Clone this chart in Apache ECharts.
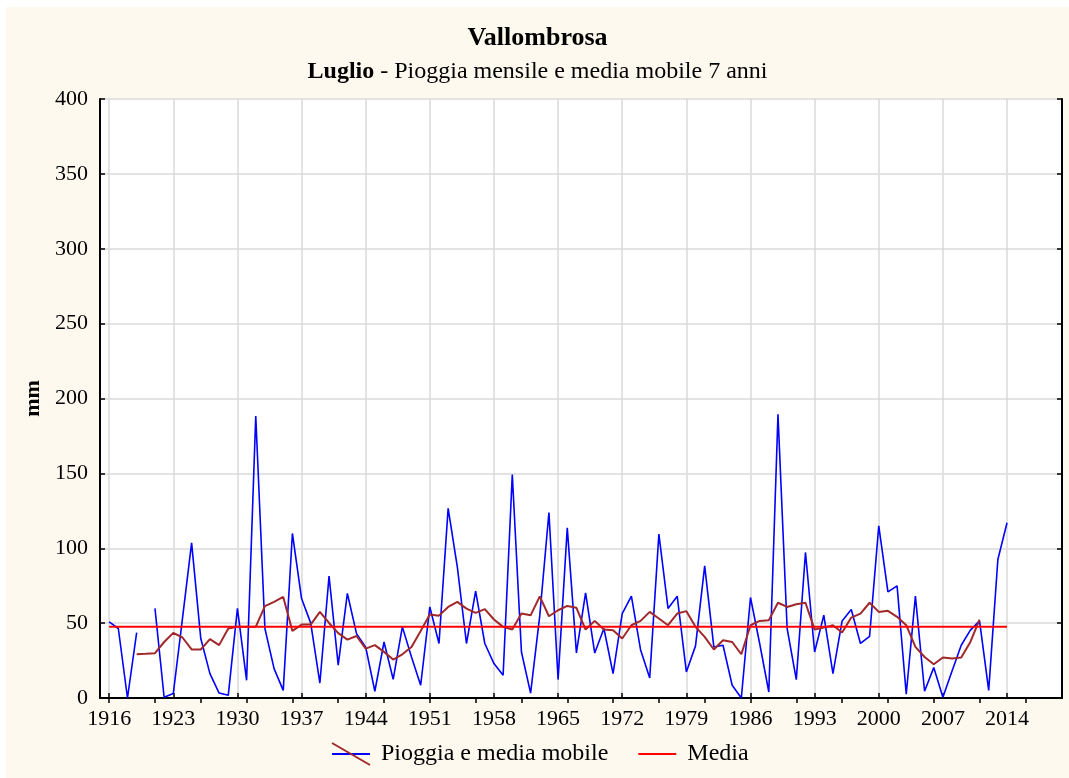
<!DOCTYPE html>
<html>
<head>
<meta charset="utf-8">
<script src="https://cdn.jsdelivr.net/npm/echarts@6/dist/echarts.min.js"></script>
<style>
  body { margin: 0; background: #ffffff; }
  #chart { position: absolute; left: 6px; top: 7px; width: 1063px; height: 771px; background: #fdf9ef; }
</style>
</head>
<body>
<div id="chart"></div>
<script>
// anni sull'asse (1915 - 2020), etichette ogni 7 anni da 1916
var anniAsse = [];
for (var a = 1915; a <= 2020; a++) anniAsse.push(String(a));

// pioggia di luglio, dal 1916 al 2014 (null = dato mancante)
var primoAnnoPioggia = 1916;
var pioggia = [
    50.8, 46.4, 0, 43.7, null, 59.8, 0.5, 3, 53, 103.6,
    39.7, 16.3, 3.3, 1.8, 59.8, 11.8, 188.3, 46.4, 19.6, 5.1,
    109.9, 66.4, 50, 10, 81.4, 21.9, 69.8, 43, 34, 4.5,
    37.4, 12.5, 47.5, 27.4, 8.5, 60.8, 36.4, 126.6, 87.6, 36.4,
    71.3, 36.4, 23, 15.2, 149.3, 30.7, 3.3, 55, 123.9, 12.3,
    113.6, 30.1, 70.2, 30, 46.4, 16.3, 56.4, 68, 32.3, 13.4,
    109.4, 59.8, 68, 17.4, 34.8, 88.2, 34, 35.2, 8.5, 0,
    67.1, 36.4, 4, 189.4, 46.4, 12.3, 97.2, 30.7, 55.3, 16.3,
    51.5, 59.1, 36.4, 41.2, 115, 70.9, 74.9, 2.5, 68, 4.5,
    20.3, 0.5, 18, 35.2, 45.3, 51.5, 5.1, 92.5, 117
];

// media mobile 7 anni, dal 1919 al 2011
var primoAnnoMobile = 1919;
var mediaMobile = [
    29.2, 29.5, 29.9, 37.4, 43.5, 40.4, 32.4, 32.4, 39.3, 35.3,
    46.4, 47.5, 47.5, 47.5, 61.3, 64.2, 67.5, 44.8, 49, 49,
    57.5, 50.1, 43.3, 39, 41.4, 33, 35.3, 30.8, 25.7, 29.2,
    34.1, 44.8, 55.7, 55, 60.8, 64.2, 59.7, 56.8, 59.3, 52.4,
    47.5, 45.7, 56.4, 55.2, 67.9, 54.6, 58.6, 61.5, 60.2, 45.7,
    51.5, 45.7, 45.3, 39.7, 48.6, 51.5, 57.5, 53.1, 48.6, 56.4,
    58, 47.5, 40.8, 32.4, 38.6, 37.4, 29.2, 48.6, 51.5, 52,
    63.6, 60.8, 62.6, 63.6, 45.7, 47, 48.6, 43.7, 53.7, 56.4,
    63.6, 57.5, 58.2, 54.2, 48.6, 34.1, 27.4, 22.5, 27, 26.3,
    27, 37.4, 52.4
];

// media di periodo
var media = 47.5;
var mediaDa = '1916', mediaA = '2014';

var tickY = [0, 50, 100, 150, 200, 250, 300, 350, 400];

function serie(valori, primoAnno) {
    return valori.map(function (v, i) {
        return [String(primoAnno + i), v];
    });
}

function ogni7(idx, val) {
    var y = Number(val);
    return (y - 1916) % 7 === 0 && y <= 2014;
}

var font = 'Liberation Serif, Times New Roman, serif';

var chart = echarts.init(document.getElementById('chart'));

chart.setOption({
    animation: false,
    title: [
        {
            text: 'Vallombrosa',
            left: 'center',
            top: 18,
            padding: 0,
            textStyle: { fontFamily: font, fontSize: 26, fontWeight: 'bold', color: '#000' }
        },
        {
            text: '{b|Luglio}{r| - Pioggia mensile e media mobile 7 anni}',
            left: 'center',
            top: 53,
            padding: 0,
            textStyle: {
                fontFamily: font,
                fontSize: 24,
                fontWeight: 'normal',
                color: '#000',
                rich: {
                    b: { fontFamily: font, fontSize: 24, fontWeight: 'bold', color: '#000' },
                    r: { fontFamily: font, fontSize: 24, fontWeight: 'normal', color: '#000' }
                }
            }
        }
    ],
    grid: {
        left: 94,
        right: 7,
        top: 92,
        bottom: 80,
        show: true,
        backgroundColor: '#ffffff',
        borderWidth: 0
    },
    legend: {
        data: ['Pioggia e media mobile', 'Media'],
        left: 326,
        top: 735,
        padding: 0,
        icon: 'rect',
        itemWidth: 38,
        itemHeight: 2,
        itemGap: 30,
        textStyle: { fontFamily: font, fontSize: 24, color: '#000', padding: [0, 0, 0, 6] }
    },
    xAxis: [
        {
            type: 'category',
            data: anniAsse,
            boundaryGap: false,
            position: 'bottom',
            axisLine: { lineStyle: { color: '#000', width: 2 } },
            axisTick: { inside: true, length: 5, interval: ogni7, lineStyle: { color: '#000', width: 1.5 } },
            axisLabel: { interval: ogni7, fontFamily: font, fontSize: 22, color: '#000', margin: 10 },
            splitLine: { show: true, interval: ogni7, lineStyle: { color: '#dadada', width: 1.5 } }
        },
        {
            type: 'category',
            data: anniAsse,
            boundaryGap: false,
            position: 'top',
            axisLine: { lineStyle: { color: '#000', width: 2 } },
            axisTick: {
                inside: true, length: 5,
                interval: function (idx, val) { return (Number(val) - 1916) % 5 === 0; },
                lineStyle: { color: '#000', width: 1.5 }
            },
            axisLabel: { show: false },
            splitLine: { show: false }
        }
    ],
    yAxis: [
        {
            type: 'value',
            min: tickY[0],
            max: tickY[tickY.length - 1],
            interval: 50,
            name: 'mm',
            nameLocation: 'middle',
            nameGap: 56,
            nameTextStyle: { fontFamily: font, fontSize: 22, fontWeight: 'bold', color: '#000' },
            axisLine: { show: true, lineStyle: { color: '#000', width: 2 } },
            axisTick: { show: true, inside: true, length: 5, lineStyle: { color: '#000', width: 1.5 } },
            axisLabel: { fontFamily: font, fontSize: 22, color: '#000', margin: 12 },
            splitLine: { lineStyle: { color: '#dadada', width: 1.5 } }
        },
        {
            type: 'value',
            position: 'right',
            min: tickY[0],
            max: tickY[tickY.length - 1],
            interval: 50,
            axisLine: { show: true, lineStyle: { color: '#000', width: 2 } },
            axisTick: { show: true, inside: true, length: 5, lineStyle: { color: '#000', width: 1.5 } },
            axisLabel: { show: false },
            splitLine: { show: false }
        }
    ],
    series: [
        {
            name: 'Pioggia e media mobile',
            type: 'line',
            data: serie(pioggia, primoAnnoPioggia),
            symbol: 'none',
            connectNulls: false,
            color: '#0000ff',
            lineStyle: { color: '#0000ff', width: 1.6 }
        },
        {
            name: 'Media mobile 7 anni',
            type: 'line',
            data: serie(mediaMobile, primoAnnoMobile),
            symbol: 'none',
            color: '#a0282a',
            lineStyle: { color: '#a0282a', width: 2 }
        },
        {
            name: 'Media',
            type: 'line',
            data: [[mediaDa, media], [mediaA, media]],
            symbol: 'none',
            color: '#ff0000',
            lineStyle: { color: '#ff0000', width: 2 }
        }
    ],
    graphic: [
        {
            type: 'line',
            shape: { x1: 326, y1: 736, x2: 364, y2: 758 },
            style: { stroke: '#a0282a', lineWidth: 2 },
            z: 100
        }
    ]
});
</script>
</body>
</html>
